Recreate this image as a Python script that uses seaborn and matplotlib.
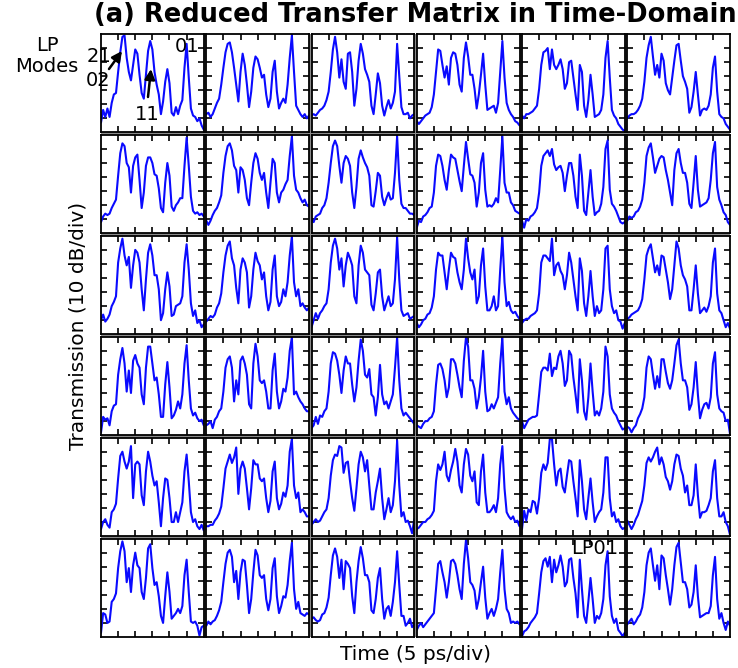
import numpy as np
import pandas as pd
import matplotlib
matplotlib.use("Agg")
import matplotlib.pyplot as plt
from matplotlib.patches import Rectangle, FancyArrowPatch
import seaborn as sns

# ---------------- data (divisions: x 5 ps/div, y 10 dB/div) ----------------
TIME = np.arange(49) * 0.125  # 0 .. 6 div

R1C1 = [0.7,1.6,1.1,1.7,1.1,2.1,2.7,2.8,4.3,5.7,6.8,6.9,5.3,4.3,3.7,4.8,5.9,5.6,4.1,2.8,2.4,4.1,5.8,6.5,5.9,4.3,3.4,2.7,1.3,2.2,3.6,4.5,3.5,1.4,1.2,1.8,1.3,1.9,2.3,4.6,6.3,3.9,1.7,1.2,1.1,0.8,1.0,0.5,0.2]
R1C2 = [1.3,1.4,1.1,1.3,1.7,2.1,2.4,3.4,4.6,5.7,6.3,6.4,5.7,4.6,3.4,2.2,4.3,5.6,4.8,3.4,1.8,2.9,4.6,5.4,5.2,4.6,3.9,4.1,2.7,1.8,2.4,4.3,5.1,2.9,1.7,2.1,2.4,2.1,3.4,5.3,6.9,4.3,1.9,1.6,1.3,1.1,1.3,1.0,1.2]
R1C3 = [1.2,1.3,1.2,1.4,1.6,1.7,1.9,2.3,2.9,4.3,5.9,6.8,5.7,3.9,5.2,3.6,3.1,5.6,5.7,4.3,1.9,3.1,5.1,6.3,5.6,4.5,4.1,3.6,1.9,1.3,2.7,4.2,3.5,1.9,1.2,1.8,2.3,1.7,2.1,2.9,6.3,4.0,1.8,1.3,1.3,1.4,1.0,1.2,1.3]
R1C4 = [0.8,0.6,0.8,1.0,1.2,1.3,1.4,1.8,2.7,4.3,5.9,5.8,4.8,3.9,4.7,3.4,5.3,5.7,5.6,4.8,3.4,2.9,5.3,6.4,5.4,4.1,4.1,3.1,1.7,2.7,4.1,5.6,3.4,1.6,1.7,1.8,1.9,1.4,2.1,4.3,6.5,3.9,2.1,1.6,1.3,1.1,0.8,0.7,0.5]
R1C5 = [1.2,1.0,1.3,1.3,1.4,1.5,1.7,1.9,3.1,4.8,5.7,5.8,6.0,4.5,5.9,4.8,4.5,4.8,5.2,4.5,3.1,3.5,5.0,5.1,3.9,2.7,1.6,4.8,4.3,1.9,1.1,2.3,4.1,2.7,1.1,1.2,1.3,1.6,2.7,5.3,6.5,3.9,1.6,1.2,1.0,0.6,0.4,0.2,0.1]
R1C6 = [1.0,1.2,1.3,1.3,1.4,1.6,1.9,2.4,3.6,5.3,6.2,6.8,5.4,4.1,4.8,3.9,5.6,5.1,3.5,3.0,2.7,3.9,5.1,6.2,6.3,5.1,4.0,3.6,3.1,1.4,1.8,2.9,4.3,2.7,1.2,1.6,1.7,1.6,1.9,2.7,4.6,5.4,2.9,1.3,1.1,1.0,0.6,0.4,0.2]

R2C1 = [0.8,1.2,1.4,1.3,1.4,1.8,2.1,2.4,4.1,5.7,6.4,6.2,5.0,4.7,2.9,4.8,5.4,5.6,3.8,1.8,2.9,4.8,5.4,5.4,5.0,4.2,4.1,3.2,1.8,1.5,3.6,5.0,4.1,1.9,1.6,2.0,2.2,2.5,2.5,4.8,6.8,4.8,2.6,1.6,1.4,1.5,1.3,1.4,1.2]
R2C2 = [0.9,0.6,0.9,1.3,1.6,1.8,2.2,2.7,4.3,5.5,6.2,6.4,5.9,4.8,4.5,2.9,4.7,4.5,3.8,2.5,2.0,3.6,5.0,5.7,5.3,4.3,3.8,4.3,2.9,1.8,3.6,5.3,5.0,2.9,2.2,2.9,3.1,3.5,3.8,5.5,6.9,4.1,3.1,2.9,2.5,2.2,2.4,2.0,1.9]
R2C3 = [1.0,0.8,1.2,1.3,1.4,1.8,2.0,2.5,3.6,5.0,6.2,6.6,6.2,4.8,3.6,5.0,5.5,5.3,4.8,2.9,1.8,3.3,5.3,5.9,5.4,5.0,4.7,4.1,2.0,1.9,3.0,4.3,4.1,2.6,2.0,2.5,2.9,2.4,2.5,4.3,6.9,3.8,2.1,1.8,1.8,1.6,1.4,1.4,1.3]
R2C4 = [0.4,0.9,0.8,1.2,1.3,1.5,1.8,1.9,2.9,4.8,5.6,5.5,4.8,3.8,3.1,4.5,5.6,5.4,5.3,4.5,3.7,3.0,4.8,6.5,5.3,4.2,4.1,3.6,1.9,2.9,5.0,5.7,3.1,1.9,2.0,1.9,2.1,2.5,2.2,4.5,6.9,3.6,2.9,2.9,2.2,2.0,1.6,1.5,1.4]
R2C5 = [0.9,0.4,1.0,0.9,1.2,1.3,1.5,1.8,2.9,4.8,5.5,5.7,5.9,5.5,6.0,4.9,4.5,4.7,4.8,4.3,3.0,4.1,5.0,5.0,4.1,2.6,1.8,5.6,4.1,1.6,1.3,2.9,4.5,2.6,1.3,1.5,1.6,2.1,3.3,6.0,6.6,3.1,2.1,1.9,1.6,1.2,0.8,0.7,0.8]
R2C6 = [0.9,1.2,1.1,1.2,1.5,1.6,1.9,2.4,3.6,5.5,6.1,6.4,5.4,4.3,4.8,5.3,5.5,5.4,4.5,3.8,2.9,2.0,4.5,5.7,6.0,5.0,4.3,4.3,3.6,2.1,1.8,3.6,5.5,3.1,1.9,2.0,2.1,2.2,2.5,3.8,5.7,6.5,3.3,2.4,2.0,1.5,1.3,0.8,0.6]

R3C1 = [1.0,1.4,0.9,1.1,1.4,2.0,2.3,2.7,5.1,6.1,6.8,5.6,4.9,5.5,3.3,4.9,6.0,5.8,5.1,3.2,1.7,3.9,5.8,6.4,5.6,4.2,4.2,3.2,1.0,1.5,3.2,4.4,3.4,1.3,1.4,2.0,2.1,2.2,2.7,5.1,6.4,4.6,2.2,1.3,1.7,0.8,1.0,0.5,0.7]
R3C2 = [0.9,1.1,1.3,1.2,1.4,1.9,2.2,2.9,4.4,5.6,6.3,6.6,5.4,4.9,3.3,2.2,4.6,5.4,5.1,4.4,1.9,2.7,4.6,5.8,5.2,4.9,3.9,4.4,2.7,1.7,2.3,4.6,5.6,2.7,2.0,2.3,3.2,2.7,3.7,5.6,6.95,3.7,2.7,3.2,2.0,2.2,1.9,1.7,1.9]
R3C3 = [0.5,1.0,1.5,1.1,1.5,1.7,2.0,2.2,3.2,5.1,6.3,6.8,6.1,4.6,5.4,3.4,4.9,5.8,5.4,4.9,2.7,2.2,4.9,6.3,5.8,4.6,4.4,4.2,2.1,1.7,2.9,4.4,4.6,2.7,1.7,2.2,2.7,2.0,2.2,3.9,6.9,3.9,1.7,1.3,1.4,1.5,1.1,1.2,1.3]
R3C4 = [0.8,0.5,0.7,1.0,1.1,1.4,1.5,1.9,2.7,4.6,5.8,5.6,5.6,4.4,3.2,4.6,5.8,5.5,5.4,4.4,3.7,3.2,4.6,6.8,5.4,4.4,3.9,4.6,2.2,2.7,4.9,6.1,3.4,1.7,1.7,2.0,2.7,1.7,2.0,4.6,6.95,3.7,2.0,2.3,1.7,1.5,1.6,1.3,1.1]
R3C5 = [0.8,1.0,1.1,1.1,1.3,1.4,1.5,1.7,2.9,5.1,5.6,5.6,5.4,5.2,6.8,4.2,4.9,5.1,4.5,4.2,3.2,4.2,5.8,5.1,3.9,2.7,1.7,5.4,4.5,2.2,1.3,2.7,4.5,2.7,1.3,2.0,1.5,1.7,3.2,6.1,6.3,3.2,2.0,1.5,1.7,1.0,0.9,0.4,0.8]
R3C6 = [1.1,1.2,1.4,1.5,1.6,1.7,2.0,2.5,3.9,5.6,6.1,6.4,5.4,4.4,4.9,4.2,5.6,5.5,4.6,3.7,2.5,3.2,4.9,6.6,6.1,4.9,4.2,3.9,3.4,1.7,1.7,3.2,4.9,2.9,1.5,1.7,1.9,1.6,2.0,2.7,5.1,6.1,2.9,1.7,1.5,1.0,0.5,0.8,0.4]

R4C1 = [0.2,1.3,1.1,1.2,0.7,1.7,2.1,2.2,4.3,5.4,6.2,5.1,3.1,4.6,3.0,5.3,5.7,5.1,4.8,2.9,2.2,4.8,6.3,6.3,5.1,3.9,4.1,2.9,1.3,1.3,3.6,5.2,3.4,1.2,1.4,1.8,2.4,1.9,2.9,5.1,6.4,3.9,1.9,1.4,1.6,1.2,1.0,1.1,0.7]
R4C2 = [0.7,0.8,1.0,0.5,1.1,1.3,1.7,1.9,3.1,4.8,5.4,5.6,4.8,2.4,3.9,2.9,5.3,5.6,5.1,4.3,2.2,1.9,5.1,6.5,5.6,3.9,3.7,3.9,3.1,1.9,1.9,4.6,5.8,3.1,1.9,2.4,3.3,3.1,4.1,6.0,6.95,2.9,3.1,2.7,2.4,2.2,1.9,1.7,1.7]
R4C3 = [0.5,0.7,1.3,0.8,1.4,1.3,1.7,1.9,3.1,5.1,5.9,5.8,5.3,4.3,3.0,4.6,5.6,5.1,5.1,3.6,2.4,3.4,5.3,6.8,6.0,4.3,4.1,4.7,2.9,2.7,1.4,2.7,5.0,2.9,2.2,2.4,1.9,2.4,2.9,4.8,6.95,3.9,1.9,1.4,1.6,1.4,1.2,1.0,0.8]
R4C4 = [0.7,0.6,0.5,0.8,1.0,1.0,1.2,1.3,1.7,3.6,5.0,5.1,4.7,3.9,2.7,3.4,5.4,5.4,5.1,4.3,3.4,2.7,5.3,6.95,6.3,3.9,3.9,3.3,1.9,2.7,4.1,6.0,3.1,1.7,1.8,2.2,1.9,2.3,2.7,5.1,6.95,3.1,2.2,2.7,1.9,1.6,1.4,1.2,1.1]
R4C5 = [1.0,0.5,0.8,1.1,1.2,1.3,1.3,1.4,2.9,4.5,4.8,4.8,4.6,5.8,4.2,4.8,4.7,5.6,6.0,5.1,3.5,3.9,6.0,5.7,4.1,2.9,1.6,5.4,3.9,1.7,1.1,2.7,5.1,3.1,1.4,1.7,1.4,1.9,3.1,6.3,5.6,2.9,1.9,1.6,1.4,1.0,0.7,0.4,0.5]
R4C6 = [0.6,0.5,0.2,0.5,0.7,1.2,1.5,1.9,2.7,4.8,5.6,5.4,4.3,3.3,4.2,3.4,5.4,5.4,4.5,3.7,3.3,3.9,5.1,6.4,6.8,5.1,3.9,3.9,3.4,1.8,2.2,3.4,5.2,2.9,1.2,1.8,2.2,2.3,1.9,2.7,5.1,5.9,2.9,1.9,1.7,1.6,1.0,1.1,0.1]

R5C1 = [0.5,1.0,1.2,0.8,0.6,1.7,1.9,2.3,4.1,5.7,6.0,5.3,4.8,5.3,6.4,2.7,5.1,5.3,5.1,2.9,2.2,4.6,6.0,5.3,4.3,3.6,3.9,2.4,0.7,2.7,4.1,4.0,2.7,1.0,1.0,1.7,1.0,1.7,2.4,4.6,5.8,3.9,1.7,1.0,1.2,0.7,0.5,0.8,0.4]
R5C2 = [0.7,0.7,0.8,0.8,1.1,1.3,1.6,2.1,3.4,4.8,5.3,5.8,5.2,5.6,6.3,3.0,4.8,5.3,4.8,3.4,1.9,3.4,5.4,5.1,5.1,4.1,3.9,4.1,2.7,1.7,2.5,4.6,5.3,2.7,1.9,2.3,3.1,2.8,3.6,6.0,6.9,3.6,2.7,3.1,1.7,1.9,1.7,1.4,1.4]
R5C3 = [0.8,1.0,1.2,1.0,1.1,1.4,1.7,1.9,2.7,4.3,5.4,5.8,5.7,6.4,6.3,4.5,5.2,5.3,3.9,2.7,1.8,3.4,5.1,6.0,5.6,4.6,5.4,3.6,1.9,1.9,3.1,3.9,4.8,2.7,1.2,1.9,2.7,1.7,2.2,3.9,6.8,3.6,1.4,1.7,1.0,1.1,0.7,0.2,1.2]
R5C4 = [0.5,0.6,0.8,1.0,1.0,1.2,1.3,1.5,1.8,3.9,5.1,4.7,5.1,6.0,4.3,3.9,4.7,5.3,6.2,5.3,3.6,3.1,5.1,6.2,5.8,4.3,3.9,4.6,2.4,2.2,4.6,5.8,3.1,1.7,1.7,1.9,2.2,1.7,2.7,5.1,6.4,3.4,1.7,1.4,1.2,1.4,1.0,1.1,0.7]
R5C5 = [0.5,1.8,1.1,1.9,1.7,2.5,2.4,1.6,2.7,4.5,5.1,4.7,5.2,6.9,6.9,5.1,3.6,4.6,4.8,3.5,3.1,4.3,5.4,5.3,3.9,2.7,1.4,5.4,3.9,1.9,1.2,2.7,4.1,2.4,1.0,1.4,1.7,1.9,3.1,5.6,5.6,2.7,1.4,1.7,1.0,1.2,0.7,0.5,0.6]
R5C6 = [1.1,0.8,0.5,0.8,1.2,1.5,2.0,2.5,3.6,5.2,5.6,5.3,5.6,6.0,6.3,5.1,5.6,5.1,4.2,3.9,3.3,3.9,5.1,5.8,5.7,4.8,4.3,3.1,3.6,2.2,2.2,2.9,5.1,2.9,1.3,1.7,1.7,1.8,2.2,2.7,4.6,5.4,2.7,1.4,1.4,1.7,1.0,0.7,0.1]

R6C1 = [0.3,1.7,1.6,1.0,1.1,2.5,2.7,3.1,4.9,6.1,6.8,6.1,3.9,4.9,3.2,5.1,6.0,5.1,4.9,3.2,2.7,4.2,6.3,6.6,4.9,3.7,3.9,2.9,1.5,1.0,2.9,4.6,3.2,1.3,1.5,1.7,2.0,1.7,2.2,4.4,5.5,3.2,1.1,1.0,1.1,0.8,0.1,0.7,0.8]
R6C2 = [0.8,1.1,0.9,1.1,1.2,1.5,1.9,2.5,3.9,5.2,6.0,6.2,5.7,3.9,4.7,2.7,4.6,5.5,5.4,3.7,1.7,2.7,4.6,6.2,5.8,4.4,4.2,4.4,2.7,1.9,2.7,4.9,5.6,2.9,1.7,2.2,2.9,2.8,3.7,5.4,6.7,3.4,2.0,2.5,1.7,1.6,1.5,1.7,1.6]
R6C3 = [1.3,1.4,1.2,1.1,1.2,1.6,1.7,2.1,2.8,4.4,5.8,6.3,5.7,4.2,5.5,3.4,5.4,5.2,4.9,2.9,1.7,3.9,5.4,6.4,5.6,4.4,4.4,3.9,1.9,1.7,2.7,4.2,4.9,2.7,1.3,2.0,2.2,1.5,2.5,3.9,6.1,3.7,1.5,1.5,0.8,1.0,1.3,0.7,0.9]
R6C4 = [0.5,0.8,1.0,0.7,0.9,1.1,1.3,1.5,1.7,3.4,5.2,5.4,4.6,3.9,2.8,3.9,5.4,5.5,5.2,4.4,3.4,2.7,5.2,6.9,5.6,3.9,3.7,3.3,2.0,2.7,3.9,5.0,2.8,1.3,1.7,2.0,1.5,2.0,2.7,4.6,6.2,3.4,2.0,1.7,1.0,1.1,1.0,1.1,0.9]
R6C5 = [0.05,0.4,0.5,0.7,1.0,1.2,1.4,1.7,3.1,4.6,5.4,5.6,5.0,5.7,3.9,5.5,4.6,5.1,5.8,5.0,3.6,3.9,5.5,5.6,4.2,3.1,1.4,5.5,3.4,1.5,1.0,2.5,4.2,2.7,1.0,1.5,1.3,1.7,2.7,5.1,6.1,2.9,1.5,1.0,1.3,0.5,0.3,0.05,0.3]
R6C6 = [0.9,1.1,1.3,0.9,1.1,1.4,1.6,2.1,3.2,5.1,6.0,6.3,5.1,4.0,5.1,3.4,5.8,5.6,4.4,3.4,2.3,3.4,5.1,6.4,6.7,5.3,3.9,3.9,3.4,2.1,2.3,3.2,5.1,2.9,1.4,1.5,1.6,1.7,1.7,2.2,4.4,5.7,2.7,1.3,1.7,1.0,0.5,1.1,0.8]

ROWS = [
    [R1C1, R1C2, R1C3, R1C4, R1C5, R1C6],
    [R2C1, R2C2, R2C3, R2C4, R2C5, R2C6],
    [R3C1, R3C2, R3C3, R3C4, R3C5, R3C6],
    [R4C1, R4C2, R4C3, R4C4, R4C5, R4C6],
    [R5C1, R5C2, R5C3, R5C4, R5C5, R5C6],
    [R6C1, R6C2, R6C3, R6C4, R6C5, R6C6],
]

TITLE = "(a) Reduced Transfer Matrix in Time-Domain"
XLABEL = "Time (5 ps/div)"
YLABEL = "Transmission (10 dB/div)"

# ---------------- figure ----------------
sns.set_theme(style="white")
plt.rcParams["font.family"] = ["DejaVu Sans"]
plt.rcParams["text.color"] = "black"

W, H = 738, 668
fig = plt.figure(figsize=(W / 100, H / 100), dpi=100)
fig.patch.set_facecolor("white")

def fx(x):
    return x / W

def fy(y):
    return 1 - y / H

left, right, top, bottom = 101, 730, 34, 637
gap = 2.5
pw = (right - left - 5 * gap) / 6
ph = (bottom - top - 5 * gap) / 6

fig.patches.append(Rectangle((fx(left), fy(bottom)), (right - left) / W, (bottom - top) / H,
                             transform=fig.transFigure, facecolor="#8a8a8a",
                             edgecolor="none", zorder=-1))

for r, row in enumerate(ROWS):
    for c, vals in enumerate(row):
        x0 = left + c * (pw + gap)
        y0 = top + r * (ph + gap)
        ax = fig.add_axes([fx(x0), fy(y0 + ph), pw / W, ph / H])
        ax.set_facecolor("white")
        df = pd.DataFrame({"t": TIME, "v": vals})
        sns.lineplot(data=df, x="t", y="v", ax=ax, color="#0a0aff", lw=1.5,
                     legend=False, estimator=None, sort=False)
        ax.set_xlim(0, 6)
        ax.set_ylim(0, 7)
        ax.set_xticks([1, 2, 3, 4, 5])
        ax.set_yticks([1, 2, 3, 4, 5, 6])
        ax.tick_params(direction="in", length=4, width=1.2, color="black",
                       top=True, right=True, bottom=True, left=True,
                       labelbottom=False, labelleft=False)
        ax.set_xlabel("")
        ax.set_ylabel("")
        for s in ax.spines.values():
            s.set_visible(True)
            s.set_color("black")
            s.set_linewidth(1.3)

# ---------------- texts ----------------
fig.text(fx(415), fy(15), TITLE, ha="center", va="center", fontsize=18.5,
         fontweight="bold", color="black")
fig.text(fx(416), fy(655), XLABEL, ha="center", va="center", fontsize=14.5,
         color="black")
fig.text(fx(78), fy(326), YLABEL, ha="center", va="center", fontsize=14.5,
         rotation=90, color="black")
fig.text(fx(47), fy(56), "LP\nModes", ha="center", va="center", fontsize=14,
         linespacing=1.1, color="black")
fig.text(fx(99), fy(57), "21", ha="center", va="center", fontsize=14, color="black")
fig.text(fx(98), fy(80), "02", ha="center", va="center", fontsize=14, color="black")
fig.text(fx(147), fy(115), "11", ha="center", va="center", fontsize=14, color="black")
fig.text(fx(187), fy(47), "01", ha="center", va="center", fontsize=14, color="black")
fig.text(fx(595), fy(549), "LP01", ha="center", va="center", fontsize=14, color="black")

arrow = dict(arrowstyle="-|>", color="black", lw=1.8, mutation_scale=15,
             shrinkA=0, shrinkB=0)
fig.add_artist(FancyArrowPatch((fx(109), fy(69)), (fx(122), fy(51)),
                               transform=fig.transFigure, **arrow))
fig.add_artist(FancyArrowPatch((fx(148), fy(97)), (fx(151), fy(69)),
                               transform=fig.transFigure, **arrow))

fig.savefig("out.png", dpi=100, facecolor="white")
